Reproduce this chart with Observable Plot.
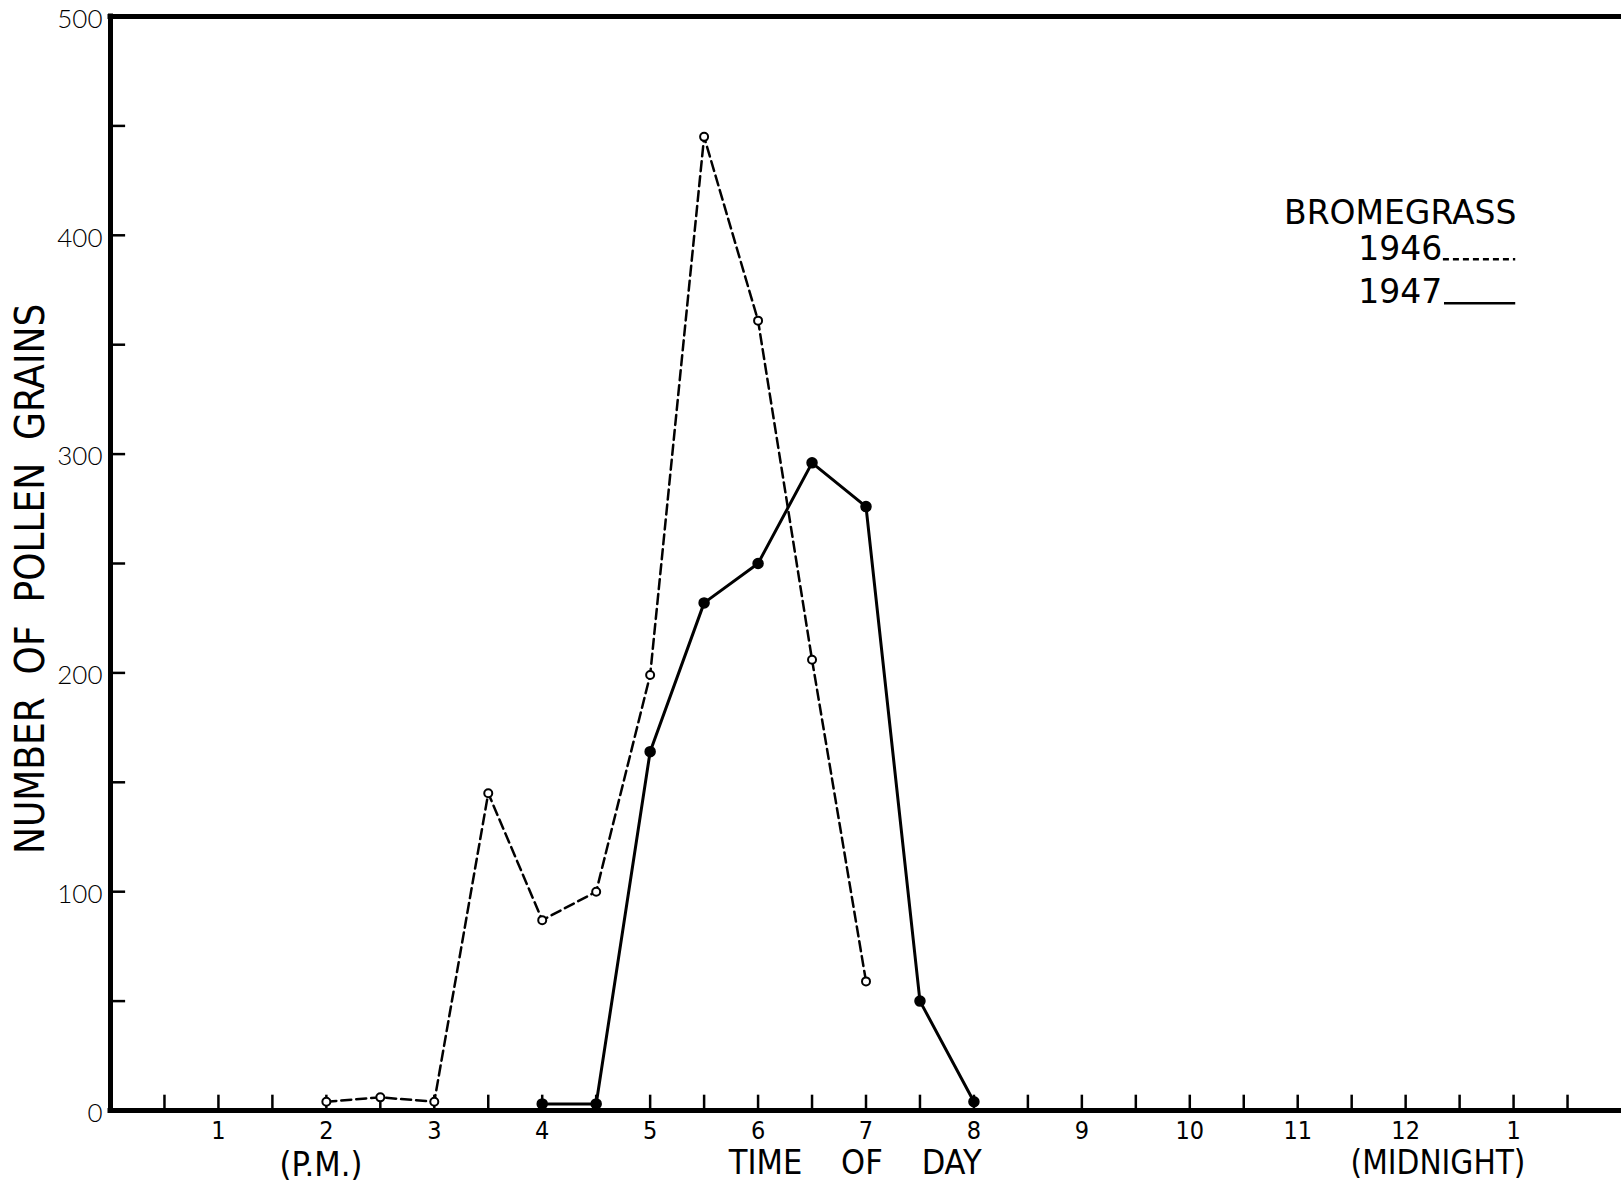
<!DOCTYPE html>
<html><head><meta charset="utf-8">
<script src="https://cdn.jsdelivr.net/npm/d3@7"></script>
<script src="https://cdn.jsdelivr.net/npm/@observablehq/plot@0.6"></script>
<style>
html,body{margin:0;padding:0;background:#fff;}
#chart{width:1621px;height:1185px;overflow:hidden;}
</style></head><body><div id="chart"></div>
<script>
// --- data (hours after noon; number of pollen grains) ---
const times1946 = [2, 2.5, 3, 3.5, 4, 4.5, 5, 5.5, 6, 6.5, 7];
const grains1946 = [4, 6, 4, 145, 87, 100, 199, 445, 361, 206, 59];
const times1947 = [4, 4.5, 5, 5.5, 6, 6.5, 7, 7.5, 8];
const grains1947 = [3, 3, 164, 232, 250, 296, 276, 50, 4];

// --- axis ticks / labels ---
const yLabelValues = [0, 100, 200, 300, 400, 500];
const yTickValues = [50, 100, 150, 200, 250, 300, 350, 400, 450];
const xTickValues = [0.5, 1, 1.5, 2, 2.5, 3, 3.5, 4, 4.5, 5, 5.5, 6, 6.5, 7, 7.5, 8, 8.5, 9, 9.5, 10, 10.5, 11, 11.5, 12, 12.5, 13, 13.5];
const hourPositions = [1, 2, 3, 4, 5, 6, 7, 8, 9, 10, 11, 12, 13];
const hourLabels = ["1", "2", "3", "4", "5", "6", "7", "8", "9", "10", "11", "12", "1"];

const d1946 = times1946.map((t, i) => ({t, v: grains1946[i]}));
const d1947 = times1947.map((t, i) => ({t, v: grains1947[i]}));

const COND = "'Liberation Sans Narrow', 'DejaVu Sans Condensed', 'Roboto Condensed', sans-serif";

const chart = Plot.plot({
  width: 1621, height: 1185,
  marginLeft: 110, marginRight: 0, marginTop: 16, marginBottom: 75,
  x: {domain: [0, 14], axis: null},
  y: {domain: [0, 500], axis: null},
  style: {background: "#fff", color: "#000", fontFamily: "'DejaVu Sans', sans-serif", overflow: "visible"},
  marks: [
    // frame
    Plot.ruleY([0], {strokeWidth: 5, strokeLinecap: "square"}),
    Plot.ruleY([500], {strokeWidth: 5, strokeLinecap: "square"}),
    Plot.ruleX([0], {strokeWidth: 5, strokeLinecap: "square"}),
    // inward ticks
    Plot.ruleY(yTickValues, {y: d => d, x1: 0, x2: 0.14, strokeWidth: 2.5}),
    Plot.ruleX(xTickValues, {x: d => d, y1: 0, y2: 7, strokeWidth: 2.5}),
    // y tick labels
    Plot.text(yLabelValues, {x: 0, y: d => d, text: d => String(d), textAnchor: "end", dx: -8, dy: 3,
      fontSize: 26, fontWeight: 300, fontFamily: "Lato, 'DejaVu Sans', sans-serif", ariaLabel: "ylabels"}),
    // x tick labels
    Plot.text(hourPositions, {x: d => d, y: 0, text: (d, i) => hourLabels[i], dy: 20,
      fontSize: 25, fontFamily: COND, ariaLabel: "xlabels"}),
    // x annotations
    Plot.text(["(P.M.)"], {x: 1.95, y: 0, text: d => d, dy: 55, fontSize: 34, fontFamily: COND}),
    Plot.text(["TIME    OF    DAY"], {x: 6.9, y: 0, text: d => d, dy: 53, fontSize: 34, fontFamily: COND}),
    Plot.text(["(MIDNIGHT)"], {x: 12.3, y: 0, text: d => d, dy: 53, fontSize: 33, fontFamily: COND}),
    // y title
    Plot.text(["NUMBER  OF  POLLEN  GRAINS"], {x: 0, y: 243, text: d => d, rotate: -90, dx: -79,
      fontSize: 40, fontFamily: COND}),
    // series
    Plot.line(d1946, {x: "t", y: "v", stroke: "#000", strokeWidth: 2.5, strokeDasharray: "10,5"}),
    Plot.line(d1947, {x: "t", y: "v", stroke: "#000", strokeWidth: 3}),
    Plot.dot(d1946, {x: "t", y: "v", r: 4, fill: "#fff", stroke: "#000", strokeWidth: 2}),
    Plot.dot(d1947, {x: "t", y: "v", r: 5, fill: "#000", stroke: "#000"}),
    // legend
    Plot.text(["BROMEGRASS"], {x: 11.95, y: 410, text: d => d, fontSize: 33, fontWeight: 500}),
    Plot.text(["1946"], {x: 11.56, y: 393.5, text: d => d, textAnchor: "start", fontSize: 33, fontWeight: 500}),
    Plot.text(["1947"], {x: 11.56, y: 374, text: d => d, textAnchor: "start", fontSize: 33, fontWeight: 500}),
    Plot.ruleY([389], {x1: 12.35, x2: 13.02, strokeWidth: 2.5, strokeDasharray: "6,4"}),
    Plot.ruleY([369], {x1: 12.36, x2: 13.02, strokeWidth: 2.5})
  ]
});
document.getElementById("chart").appendChild(chart);
d3.select(chart).selectAll('g[aria-label="ylabels"] text').attr("letter-spacing", 4);
</script>
</body></html>
